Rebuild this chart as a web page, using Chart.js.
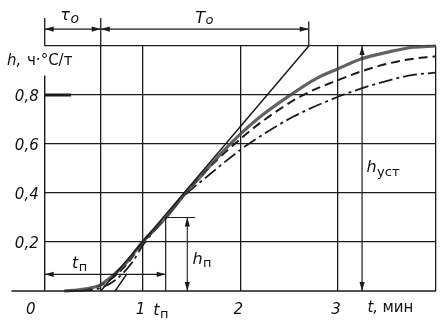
<!DOCTYPE html>
<html>
<head>
<meta charset="utf-8">
<style>
  html, body { margin: 0; padding: 0; background: #fff; }
  canvas { display: block; }
</style>
</head>
<body>
<canvas id="myChart" width="444" height="324"></canvas>
<script src="https://cdn.jsdelivr.net/npm/chart.js"></script>
<script>
// curves: t in minutes, h in ч·°C/т
const tSolid = [0.2, 0.35, 0.5, 0.57, 0.7, 0.84, 1.0, 1.24, 1.42, 1.6, 1.8, 2.0, 2.2, 2.44, 2.78, 3.0, 3.24, 3.53, 3.77, 4.0];
const hSolid = [0, 0.005, 0.015, 0.025, 0.064, 0.118, 0.2, 0.3, 0.39, 0.47, 0.56, 0.64, 0.71, 0.78, 0.868, 0.907, 0.948, 0.977, 0.995, 1.0];

const tDash = [0.25, 0.5, 0.7, 0.84, 1.0, 1.24, 1.42, 1.6, 1.8, 2.0, 2.2, 2.61, 3.0, 3.36, 3.7, 4.0];
const hDash = [0, 0.012, 0.055, 0.11, 0.195, 0.3, 0.39, 0.47, 0.55, 0.62, 0.685, 0.793, 0.861, 0.912, 0.944, 0.958];

const tDashDot = [0.35, 0.55, 0.74, 0.9, 1.0, 1.24, 1.42, 1.66, 2.0, 2.17, 2.54, 3.0, 3.24, 3.53, 3.77, 4.0];
const hDashDot = [0, 0.01, 0.05, 0.12, 0.185, 0.3, 0.385, 0.467, 0.576, 0.623, 0.711, 0.793, 0.827, 0.861, 0.882, 0.891];

// grid and ticks
const xGrid = [0.573, 1, 2, 3, 4];
const yGrid = [0.2, 0.4, 0.6, 0.8, 1.0];
const xTicks = [0, 1, 2, 3];
const xTickLabels = ['0', '1', '2', '3'];
const yTicks = [0.2, 0.4, 0.6, 0.8];
const yTickLabels = ['0,2', '0,4', '0,6', '0,8'];

// construction values
const tau0 = 0.573;   // delay
const tEnd = 2.70;    // tangent reaches h = 1
const tP = 1.237;
const hP = 0.3;
const tHp = 1.458;
const tUst = 3.245;
const dimY = 1.069;   // level of the top dimension line
const tpY = 0.068;    // level of the t_п dimension line

const ink = '#1b1b1b';
const pts = (xs, ys) => xs.map((x, i) => ({ x, y: ys[i] }));

const seg = (data, width, extra) => Object.assign({
    data, borderColor: ink, borderWidth: width || 1.3, pointRadius: 0,
    tension: 0, clip: false, fill: false
}, extra || {});

const datasets = [
    seg([{ x: -0.34, y: 0 }, { x: 4, y: 0 }], 1.6),
    seg([{ x: 0, y: 0 }, { x: 0, y: 0.88 }], 1.4),
    seg([{ x: 0, y: 1 }, { x: 0, y: 1.114 }], 1.3),
    seg([{ x: tau0, y: 1 }, { x: tau0, y: 1.114 }], 1.3),
    seg([{ x: tEnd, y: 1 }, { x: tEnd, y: 1.10 }], 1.3),
    seg([{ x: 0, y: dimY }, { x: tEnd, y: dimY }], 1.2),
    seg([{ x: tau0, y: 0 }, { x: tEnd, y: 1 }], 1.5),
    seg([{ x: 0, y: tpY }, { x: tP, y: tpY }], 1.1),
    seg([{ x: tP, y: 0 }, { x: tP, y: hP }, { x: 1.54, y: hP }], 1.2),
    seg([{ x: tHp, y: 0 }, { x: tHp, y: hP }], 1.1),
    seg([{ x: tUst, y: 0 }, { x: tUst, y: 1 }], 1.2),
    seg([{ x: 0.72, y: 0 }, { x: 0.84, y: 0.07 }], 1.5),
    seg([{ x: 0, y: 0.8 }, { x: 0.27, y: 0.8 }], 3),
    seg(pts(tSolid, hSolid), 3.2, { borderColor: 'rgba(70,70,70,0.85)', cubicInterpolationMode: 'monotone' }),
    seg(pts(tDash, hDash), 2, { borderDash: [9, 5], cubicInterpolationMode: 'monotone' }),
    seg(pts(tDashDot, hDashDot), 1.8, { borderDash: [14, 4, 3, 4], cubicInterpolationMode: 'monotone' })
];

const arrows = [
    [0, dimY, 'left'], [tau0, dimY, 'right'], [tau0, dimY, 'left'], [tEnd, dimY, 'right'],
    [0, tpY, 'left'], [tP, tpY, 'right'],
    [tHp, hP, 'up'], [tHp, 0, 'down'],
    [tUst, 1, 'up'], [tUst, 0, 'down']
];

const font = (size, upright) => (upright ? '' : 'italic ') + size + 'px "DejaVu Sans"';

function subText(ctx, main, sub, x, y, size, subSize, drop) {
    ctx.font = font(size);
    ctx.fillText(main, x, y);
    const w = ctx.measureText(main).width;
    ctx.font = font(subSize, sub !== 'o');
    ctx.fillText(sub, x + w + 0.5, y + drop);
}

const drawing = {
    id: 'drawing',
    afterDatasetsDraw(chart) {
        const ctx = chart.ctx;
        const xs = chart.scales.x, ys = chart.scales.y;
        const area = chart.chartArea;
        ctx.save();
        ctx.fillStyle = ink;
        // arrow heads
        arrows.forEach(([x, y, dir]) => {
            const px = xs.getPixelForValue(x), py = ys.getPixelForValue(y);
            const L = 9, W = 2.6;
            ctx.beginPath();
            ctx.moveTo(px, py);
            if (dir === 'left') { ctx.lineTo(px + L, py - W); ctx.lineTo(px + L, py + W); }
            if (dir === 'right') { ctx.lineTo(px - L, py - W); ctx.lineTo(px - L, py + W); }
            if (dir === 'up') { ctx.lineTo(px - W, py + L); ctx.lineTo(px + W, py + L); }
            if (dir === 'down') { ctx.lineTo(px - W, py - L); ctx.lineTo(px + W, py - L); }
            ctx.closePath();
            ctx.fill();
        });

        ctx.fillStyle = '#111';
        ctx.textBaseline = 'alphabetic';
        // y tick labels
        ctx.font = font(15);
        ctx.textAlign = 'right';
        yTicks.forEach((v, i) => ctx.fillText(yTickLabels[i], area.left - 6, ys.getPixelForValue(v) + 5.5));
        // x tick labels
        ctx.textAlign = 'center';
        xTicks.forEach((v, i) => {
            const shift = v === 0 ? -14 : -2;
            ctx.fillText(xTickLabels[i], xs.getPixelForValue(v) + shift, area.bottom + 23);
        });

        ctx.textAlign = 'left';
        ctx.font = font(15);
        ctx.fillText('h,', 7, area.top + 19);
        ctx.font = font(15, true);
        ctx.fillText('ч·°C/т', 27, area.top + 19);
        ctx.font = font(15);
        const tx = xs.getPixelForValue(3.3);
        ctx.fillText('t,', tx, area.bottom + 21);
        ctx.font = font(15, true);
        ctx.fillText('мин', tx + 15, area.bottom + 21);

        subText(ctx, 'τ', 'o', xs.getPixelForValue(0.16), 20, 16, 14, 3);
        subText(ctx, 'T', 'o', xs.getPixelForValue(1.54), 23, 16, 13, 1);
        subText(ctx, 't', 'п', xs.getPixelForValue(0.28), ys.getPixelForValue(0.095), 16, 13, 3);
        subText(ctx, 't', 'п', xs.getPixelForValue(1.11), area.bottom + 24, 16, 13, 3);
        subText(ctx, 'h', 'п', xs.getPixelForValue(1.51), ys.getPixelForValue(0.11), 16, 13, 3);
        subText(ctx, 'h', 'уст', xs.getPixelForValue(3.29), ys.getPixelForValue(0.485), 16, 13, 4);
        ctx.restore();
    }
};

new Chart(document.getElementById('myChart').getContext('2d'), {
    type: 'line',
    data: { datasets },
    options: {
        responsive: false,
        animation: false,
        layout: { padding: { left: 44.7, right: 8.1, top: 46, bottom: 33 } },
        plugins: { legend: { display: false }, tooltip: { enabled: false } },
        scales: {
            x: {
                type: 'linear', min: 0, max: 4,
                afterBuildTicks: (s) => { s.ticks = xGrid.map(v => ({ value: v })); },
                ticks: { display: false },
                border: { display: false },
                grid: { color: ink, lineWidth: 1.3, drawTicks: false }
            },
            y: {
                type: 'linear', min: 0, max: 1,
                afterBuildTicks: (s) => { s.ticks = yGrid.map(v => ({ value: v })); },
                ticks: { display: false },
                border: { display: false },
                grid: { color: ink, lineWidth: 1.3, drawTicks: false }
            }
        }
    },
    plugins: [drawing]
});
</script>
</body>
</html>
